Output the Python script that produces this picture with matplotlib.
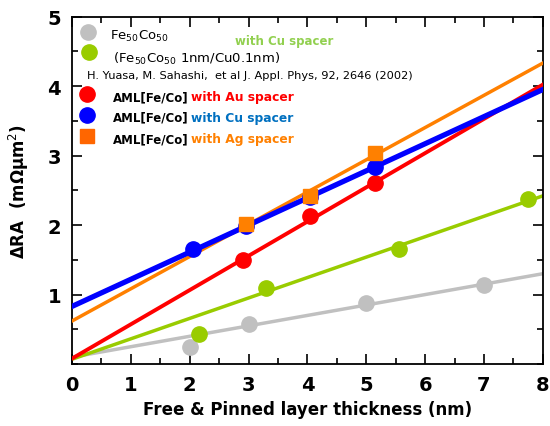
import matplotlib

matplotlib.use("Agg")
import matplotlib.pyplot as plt  # noqa: E402
from matplotlib.ticker import MultipleLocator  # noqa: E402

plt.rcParams["font.family"] = ["DejaVu Sans"]

# データ
feco_x = [2.0, 3.0, 5.0, 7.0]
feco_y = [0.24, 0.57, 0.88, 1.14]
fecocu_x = [2.15, 3.3, 5.55, 7.75]
fecocu_y = [0.43, 1.09, 1.65, 2.37]
au_x = [2.9, 4.05, 5.15]
au_y = [1.50, 2.13, 2.61]
cu_x = [2.05, 2.95, 4.05, 5.15]
cu_y = [1.65, 1.98, 2.40, 2.84]
ag_x = [2.95, 4.05, 5.15]
ag_y = [2.01, 2.42, 3.04]

# 直線フィット (端点)
fit_x = [0, 8]
feco_fit = [0.10, 1.30]
fecocu_fit = [0.07, 2.42]
au_fit = [0.08, 4.02]
cu_fit = [0.83, 3.95]
ag_fit = [0.62, 4.33]

GRAY = "#c0c0c0"
GREEN = "#99cc00"
RED = "#ff0000"
BLUE = "#0000ff"
ORANGE = "#ff8000"

fig = plt.figure(figsize=(5.5, 4.27), dpi=100)
ax = fig.add_axes([0.131, 0.145, 0.856, 0.814])

ax.plot(fit_x, feco_fit, color=GRAY, lw=2.5, zorder=2)
ax.plot(fit_x, fecocu_fit, color=GREEN, lw=2.5, zorder=2)
ax.plot(fit_x, au_fit, color=RED, lw=2.8, zorder=3)
ax.plot(fit_x, ag_fit, color=ORANGE, lw=2.5, zorder=3)
ax.plot(fit_x, cu_fit, color=BLUE, lw=3.8, zorder=4)

ms = 11
ax.plot(feco_x, feco_y, "o", color=GRAY, ms=ms, zorder=5)
ax.plot(fecocu_x, fecocu_y, "o", color=GREEN, ms=ms, zorder=5)
ax.plot(au_x, au_y, "o", color=RED, ms=ms, zorder=5)
ax.plot(cu_x, cu_y, "o", color=BLUE, ms=ms, zorder=5)
ax.plot(ag_x, ag_y, "s", color=ORANGE, ms=10, zorder=6)

ax.set_xlim(0, 8)
ax.set_ylim(0, 5)
ax.xaxis.set_major_locator(MultipleLocator(1))
ax.xaxis.set_minor_locator(MultipleLocator(0.5))
ax.yaxis.set_major_locator(MultipleLocator(1))
ax.yaxis.set_minor_locator(MultipleLocator(0.5))
ax.set_yticks([1, 2, 3, 4, 5])
ax.tick_params(which="both", direction="in", top=True, right=True, width=1.2)
ax.tick_params(which="major", length=7, labelsize=14, pad=8)
ax.tick_params(which="minor", length=4)
for lbl in ax.get_xticklabels() + ax.get_yticklabels():
    lbl.set_fontweight("bold")
for sp in ax.spines.values():
    sp.set_linewidth(1.3)

ax.set_xlabel("Free & Pinned layer thickness (nm)", fontsize=12, fontweight="bold")
ax.set_ylabel("ΔRA  (mΩμm$^2$)", fontsize=12, fontweight="bold", labelpad=12)

# 凡例 (手描き)
tr = ax.transAxes


def mk(x, y, style, color, size=11):
    ax.plot([x], [y], style, color=color, ms=size, transform=tr, clip_on=False)


mk(0.034, 0.954, "o", GRAY)
ax.text(0.081, 0.946, "Fe$_{50}$Co$_{50}$", transform=tr, fontsize=9.5, va="center")
mk(0.036, 0.899, "o", GREEN)
ax.text(0.086, 0.880, "(Fe$_{50}$Co$_{50}$ 1nm/Cu0.1nm)", transform=tr, fontsize=9.5,
        va="center")
ax.text(0.346, 0.931, "with Cu spacer", transform=tr, fontsize=8.5, color="#92d050",
        fontweight="bold", va="center")
ax.text(0.032, 0.833, "H. Yuasa, M. Sahashi,  et al J. Appl. Phys, 92, 2646 (2002)",
        transform=tr, fontsize=8.2, va="center")
rows = [(0.776, "o", RED, "with Au spacer", RED),
        (0.716, "o", BLUE, "with Cu spacer", "#0070c0"),
        (0.655, "s", "#ff6600", "with Ag spacer", ORANGE)]
for y, style, c, txt, tc in rows:
    mk(0.032, y, style, c, 11 if style == "o" else 10)
    ax.text(0.087, y - 0.006, "AML[Fe/Co]", transform=tr, fontsize=8.5, fontweight="bold",
            va="center")
    ax.text(0.253, y - 0.006, txt, transform=tr, fontsize=8.8, fontweight="bold", color=tc,
            va="center")

fig.savefig("out.png", dpi=100)
